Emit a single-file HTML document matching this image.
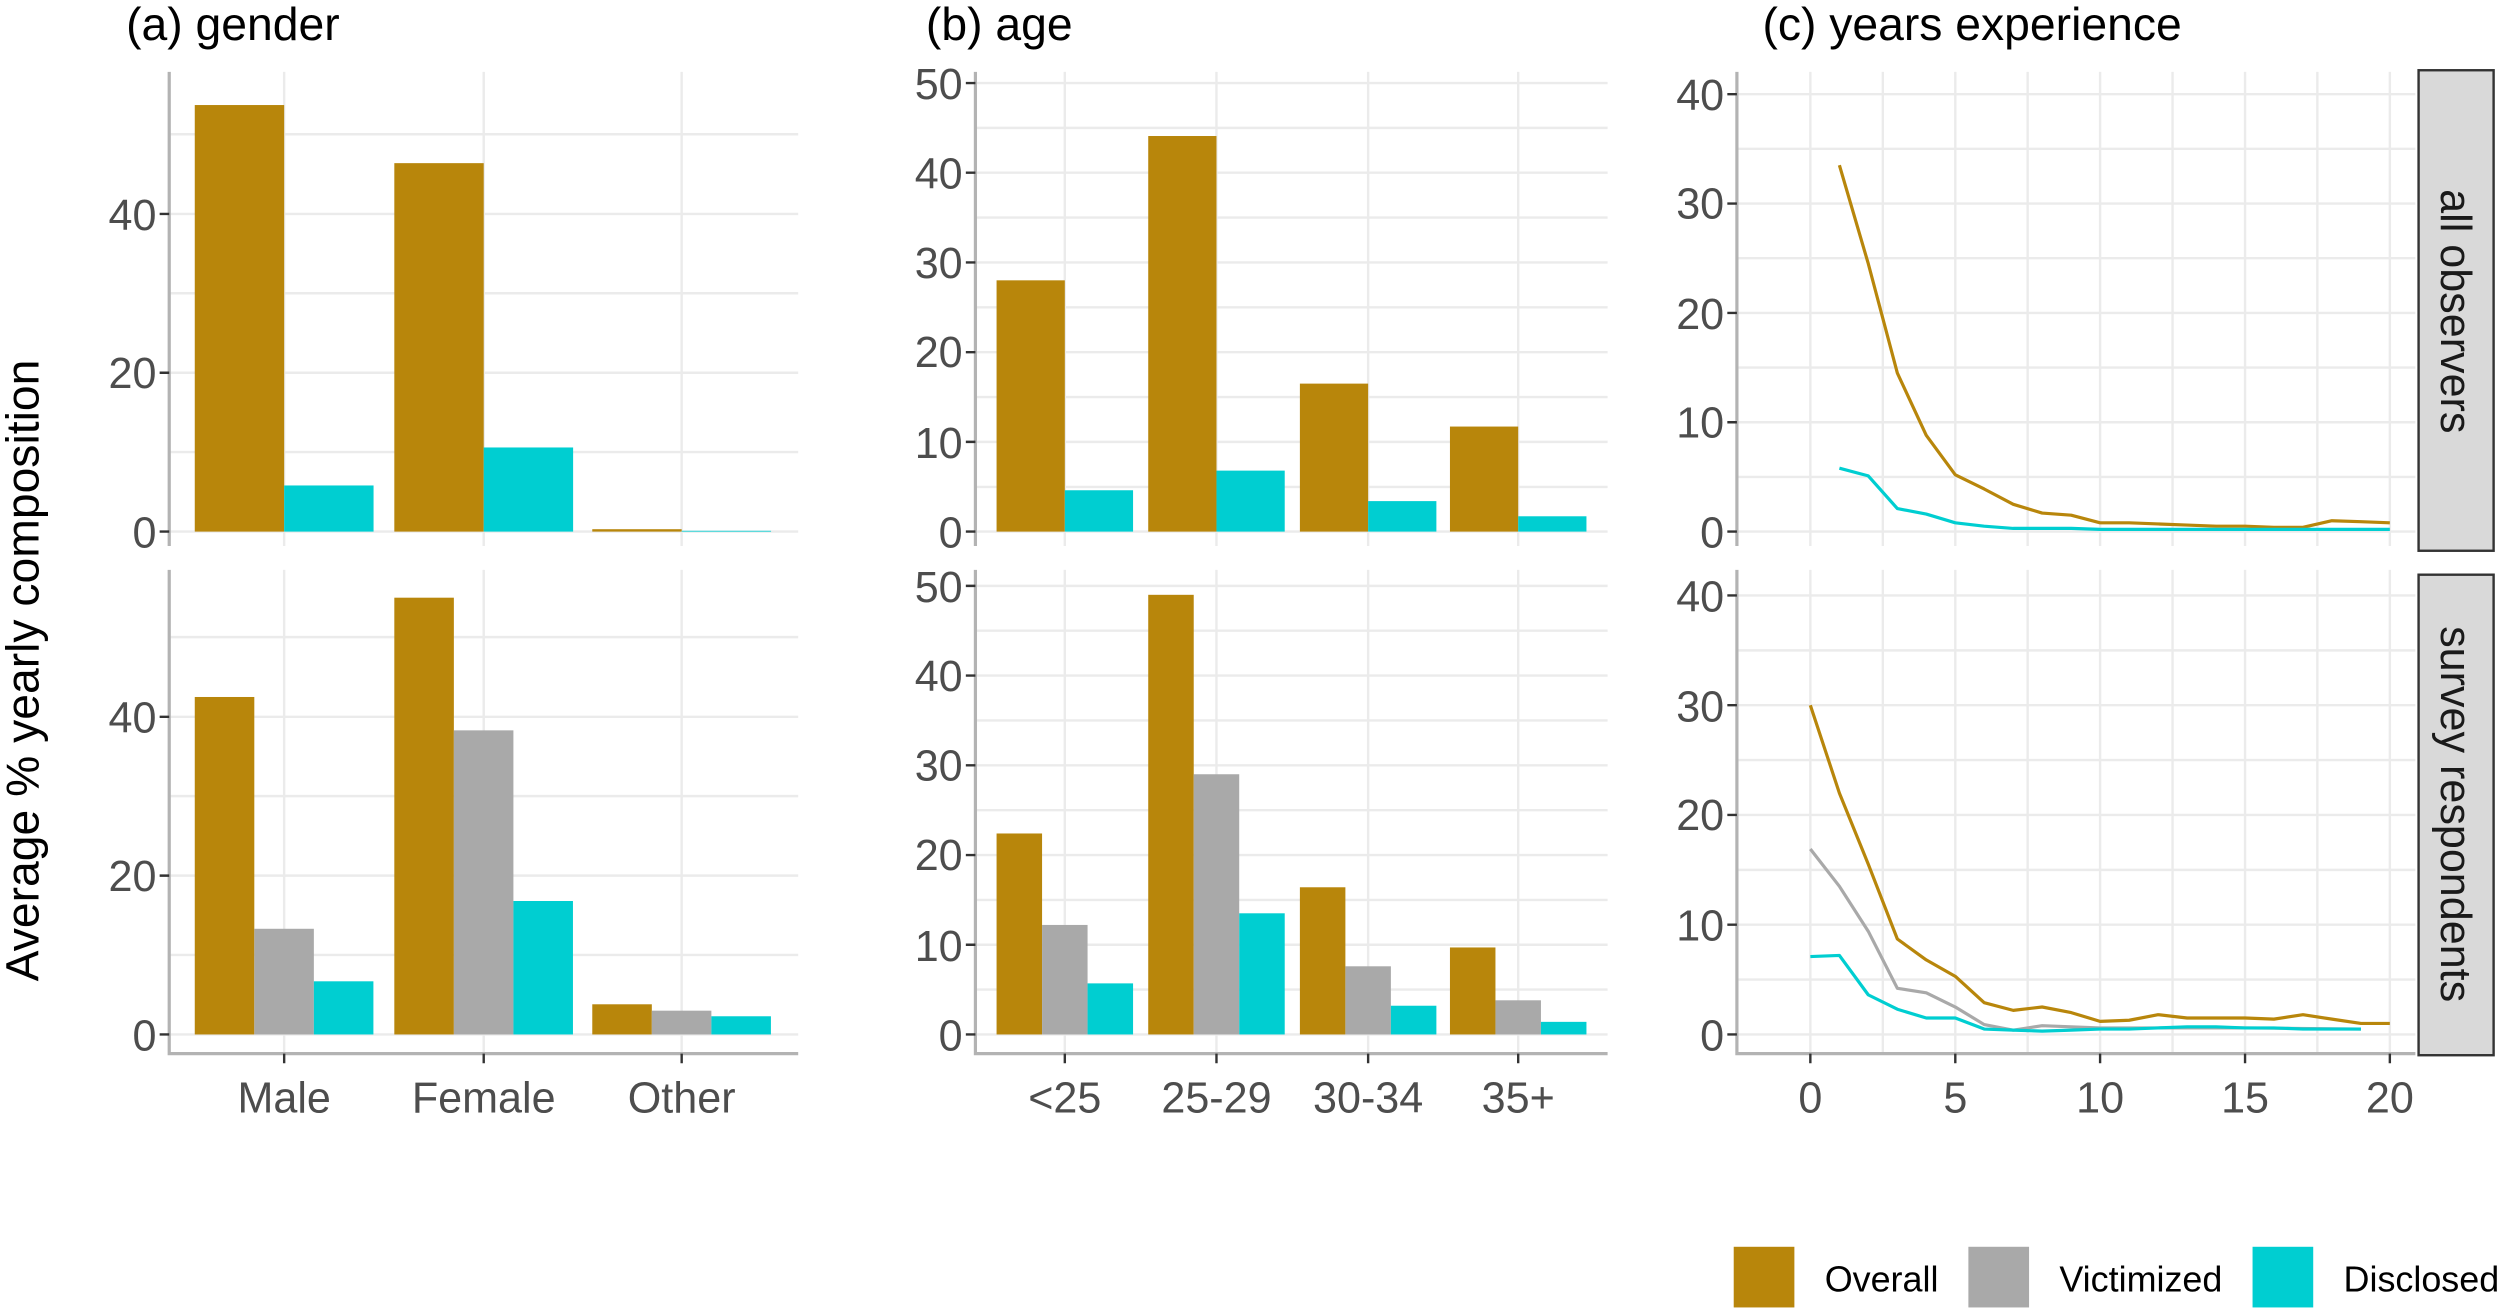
<!DOCTYPE html>
<html><head><meta charset="utf-8"><style>html,body{margin:0;padding:0;background:#fff}svg{display:block}</style></head>
<body>
<svg width="2500" height="1310" viewBox="0 0 1566 820.6" preserveAspectRatio="none" xmlns="http://www.w3.org/2000/svg" font-family="Liberation Sans, Arial, sans-serif">
<g stroke="#ebebeb" stroke-width="1">
<path d="M106 333H500M106 283.2H500M106 233.5H500M106 183.7H500M106 134H500M106 84.1H500M178 45V342M303 45V342M427 45V342" stroke-width="1.5"/>
<path d="M106 648H500M106 598.2H500M106 548.5H500M106 498.7H500M106 449H500M106 399.1H500M178 357V660M303 357V660M427 357V660" stroke-width="1.5"/>
<path d="M611 333H1007M611 305H1007M611 276.8H1007M611 248.7H1007M611 220.6H1007M611 192.5H1007M611 164.4H1007M611 136.3H1007M611 108.2H1007M611 80.1H1007M611 52H1007M667 45V342M762 45V342M857 45V342M951 45V342" stroke-width="1.5"/>
<path d="M611 648H1007M611 619.9H1007M611 591.8H1007M611 563.7H1007M611 535.6H1007M611 507.5H1007M611 479.4H1007M611 451.3H1007M611 423.2H1007M611 395.1H1007M611 367H1007M667 357V660M762 357V660M857 357V660M951 357V660" stroke-width="1.5"/>
<path d="M1088 333H1513M1088 298.75H1513M1088 264.5H1513M1088 230.25H1513M1088 196H1513M1088 161.75H1513M1088 127.5H1513M1088 93.25H1513M1088 59H1513M1134 45V342M1179.4 45V342M1224.8 45V342M1270.1 45V342M1315.5 45V342M1360.9 45V342M1406.3 45V342M1451.6 45V342M1497 45V342" stroke-width="1.5"/>
<path d="M1088 648H1513M1088 613.6H1513M1088 579.25H1513M1088 544.9H1513M1088 510.5H1513M1088 476.1H1513M1088 441.75H1513M1088 407.4H1513M1088 373H1513M1134 357V660M1179.4 357V660M1224.8 357V660M1270.1 357V660M1315.5 357V660M1360.9 357V660M1406.3 357V660M1451.6 357V660M1497 357V660" stroke-width="1.5"/>
</g>
<g fill="#B8860B">
<rect x="122" y="65.8" width="56" height="267.2"/><rect x="247" y="102.2" width="56" height="230.8"/><rect x="371" y="331.5" width="56" height="1.5"/>
<rect x="122" y="436.6" width="37.3" height="211.4"/><rect x="247" y="374.4" width="37.3" height="273.6"/><rect x="371" y="629.1" width="37.3" height="18.9"/>
<rect x="624.25" y="175.6" width="42.75" height="157.4"/><rect x="719.25" y="85.2" width="42.75" height="247.8"/><rect x="814.25" y="240.3" width="42.75" height="92.7"/><rect x="908.25" y="267.2" width="42.75" height="65.8"/>
<rect x="624.25" y="522.1" width="28.5" height="125.9"/><rect x="719.25" y="372.6" width="28.5" height="275.4"/><rect x="814.25" y="555.8" width="28.5" height="92.2"/><rect x="908.25" y="593.5" width="28.5" height="54.5"/>
</g>
<g fill="#A9A9A9">
<rect x="159.3" y="581.8" width="37.3" height="66.2"/><rect x="284.3" y="457.5" width="37.3" height="190.5"/><rect x="408.3" y="633.1" width="37.3" height="14.9"/>
<rect x="652.75" y="579.4" width="28.5" height="68.6"/><rect x="747.75" y="485" width="28.5" height="163"/><rect x="842.75" y="605.3" width="28.5" height="42.7"/><rect x="936.75" y="626.6" width="28.5" height="21.4"/>
</g>
<g fill="#00CED1">
<rect x="178" y="304.1" width="56" height="28.9"/><rect x="303" y="280.3" width="56" height="52.7"/><rect x="427" y="332.5" width="56" height="0.5"/>
<rect x="196.6" y="614.7" width="37.3" height="33.3"/><rect x="321.6" y="564.4" width="37.3" height="83.6"/><rect x="445.6" y="636.6" width="37.3" height="11.4"/>
<rect x="667" y="307.1" width="42.75" height="25.9"/><rect x="762" y="294.8" width="42.75" height="38.2"/><rect x="857" y="313.9" width="42.75" height="19.1"/><rect x="951" y="323.4" width="42.75" height="9.6"/>
<rect x="681.25" y="616" width="28.5" height="32"/><rect x="776.25" y="572.1" width="28.5" height="75.9"/><rect x="871.25" y="630" width="28.5" height="18"/><rect x="965.25" y="640.1" width="28.5" height="7.9"/>
</g>
<g fill="none" stroke-width="2" stroke-linejoin="round">
<polyline stroke="#B8860B" points="1152.2,103.5 1170.3,165.2 1188.5,233.7 1206.6,272.7 1224.8,297.4 1242.9,306.3 1261.1,315.9 1279.2,321.4 1297.4,322.7 1315.5,327.5 1333.7,327.5 1351.8,328.2 1370,328.9 1388.1,329.6 1406.3,329.6 1424.4,330.3 1442.6,330.3 1460.7,326.2 1478.9,326.8 1497,327.5"/>
<polyline stroke="#00CED1" points="1152.2,293.3 1170.3,298.1 1188.5,318.6 1206.6,322 1224.8,327.5 1242.9,329.6 1261.1,331 1279.2,331 1297.4,331 1315.5,331.6 1497,331.6"/>
<polyline stroke="#B8860B" points="1134,441.8 1152.2,496.8 1170.3,541.4 1188.5,588.2 1206.6,601.3 1224.8,611.6 1242.9,628.1 1261.1,632.9 1279.2,630.8 1297.4,634.3 1315.5,639.8 1333.7,639.1 1351.8,635.6 1370,637.7 1388.1,637.7 1406.3,637.7 1424.4,638.4 1442.6,635.6 1460.7,638.4 1478.9,641.1 1497,641.1"/>
<polyline stroke="#A9A9A9" points="1134,531.8 1152.2,555.2 1170.3,583.4 1188.5,619.1 1206.6,621.9 1224.8,630.8 1242.9,641.8 1261.1,645.3 1279.2,642.5 1297.4,643.2 1315.5,643.9 1406.3,643.9 1478.9,644.6"/>
<polyline stroke="#00CED1" points="1134,599.2 1152.2,598.5 1170.3,623.2 1188.5,632.2 1206.6,637.7 1224.8,637.7 1242.9,644.6 1261.1,645.3 1279.2,645.9 1297.4,645.3 1315.5,644.6 1333.7,644.6 1351.8,643.9 1370,643.2 1388.1,643.2 1406.3,643.9 1424.4,643.9 1442.6,644.6 1478.9,644.6"/>
</g>
<g stroke="#b3b3b3" stroke-width="2" fill="none">
<path d="M106 45V342M106 357V660H500M611 45V342M611 357V660H1007M1088 45V342M1088 357V660H1513"/>
</g>
<g stroke="#333" stroke-width="1.5">
<path d="M100 333H106M100 233.5H106M100 134H106M100 648H106M100 548.5H106M100 449H106"/>
<path d="M605 333H611M605 276.8H611M605 220.6H611M605 164.4H611M605 108.2H611M605 52H611M605 648H611M605 591.8H611M605 535.6H611M605 479.4H611M605 423.2H611M605 367H611"/>
<path d="M1082 333H1088M1082 264.5H1088M1082 196H1088M1082 127.5H1088M1082 59H1088M1082 648H1088M1082 579.25H1088M1082 510.5H1088M1082 441.75H1088M1082 373H1088"/>
<path d="M178 660V666M303 660V666M427 660V666M667 660V666M762 660V666M857 660V666M951 660V666M1134 660V666M1224.8 660V666M1315.5 660V666M1406.3 660V666M1497 660V666"/>
</g>
<g font-size="27" fill="#4d4d4d" text-anchor="end">
<text x="98" y="343">0</text><text x="98" y="243">20</text><text x="98" y="144">40</text>
<text x="98" y="658">0</text><text x="98" y="558">20</text><text x="98" y="459">40</text>
<text x="603" y="343">0</text><text x="603" y="287">10</text><text x="603" y="230">20</text><text x="603" y="174">30</text><text x="603" y="118">40</text><text x="603" y="62">50</text>
<text x="603" y="658">0</text><text x="603" y="602">10</text><text x="603" y="545">20</text><text x="603" y="489">30</text><text x="603" y="433">40</text><text x="603" y="377">50</text>
<text x="1080" y="343">0</text><text x="1080" y="274">10</text><text x="1080" y="206">20</text><text x="1080" y="137">30</text><text x="1080" y="69">40</text>
<text x="1080" y="658">0</text><text x="1080" y="589">10</text><text x="1080" y="520">20</text><text x="1080" y="452">30</text><text x="1080" y="383">40</text>
</g>
<g font-size="27" fill="#4d4d4d" text-anchor="middle">
<text x="178" y="697">Male</text><text x="303" y="697">Female</text><text x="427" y="697">Other</text>
<text x="667" y="697">&lt;25</text><text x="762" y="697">25-29</text><text x="857" y="697">30-34</text><text x="951" y="697">35+</text>
<text x="1134" y="697">0</text><text x="1224.8" y="697">5</text><text x="1315.5" y="697">10</text><text x="1406.3" y="697">15</text><text x="1497" y="697">20</text>
</g>
<rect x="1515" y="44" width="47" height="301" fill="#d9d9d9" stroke="#333" stroke-width="1.5"/>
<rect x="1515" y="360" width="47" height="301" fill="#d9d9d9" stroke="#333" stroke-width="1.5"/>
<g font-size="27" fill="#1a1a1a" text-anchor="middle">
<text transform="translate(1529,195) rotate(90)">all observers</text>
<text transform="translate(1529,510) rotate(90)">survey respondents</text>
</g>
<g font-size="29" fill="#000">
<text x="79" y="25">(a) gender</text>
<text x="580" y="25">(b) age</text>
<text x="1104" y="25">(c) years experience</text>
<text transform="translate(24,420) rotate(-90)" text-anchor="middle">Average % yearly composition</text>
</g>
<rect x="1086" y="781" width="38" height="38" fill="#B8860B"/>
<rect x="1233" y="781" width="38" height="38" fill="#A9A9A9"/>
<rect x="1411" y="781" width="38" height="38" fill="#00CED1"/>
<g font-size="22.5" fill="#000">
<text x="1143" y="809">Overall</text><text x="1290" y="809">Victimized</text><text x="1468" y="809">Disclosed</text>
</g>
</svg>
</body></html>
